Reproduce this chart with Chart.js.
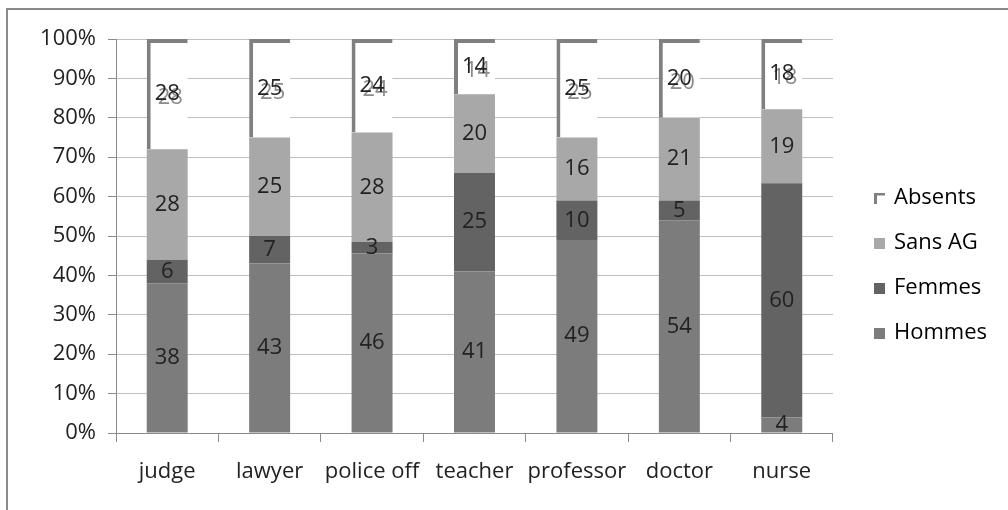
<!DOCTYPE html>
<html>
<head>
<meta charset="utf-8">
<script src="https://cdn.jsdelivr.net/npm/chart.js@4.4.0/dist/chart.umd.min.js"></script>
<style>
  html, body { margin: 0; padding: 0; background: #fff; }
  #wrap { width: 1008px; height: 510px; }
</style>
</head>
<body>
<div id="wrap"><canvas id="chart" width="1008" height="510"></canvas></div>
<script>
const categories = ["judge", "lawyer", "police off", "teacher", "professor", "doctor", "nurse"];
const hommes = [38, 43, 46, 41, 49, 54, 4];
const femmes = [6, 7, 3, 25, 10, 5, 60];
const sansAG = [28, 25, 28, 20, 16, 21, 19];
const absents = [28, 25, 24, 14, 25, 20, 18];
const yTicks = [0, 10, 20, 30, 40, 50, 60, 70, 80, 90, 100];

const FONT = "'Open Sans', Lato, sans-serif";

// 100% stacked: each bar normalised to its own total
const totals = categories.map((c, i) => hommes[i] + femmes[i] + sansAG[i] + absents[i]);
const pct = arr => arr.map((v, i) => v / totals[i] * 100);

// legend icons (square sits on the right of a wider transparent canvas)
function squareIcon(color) {
    const c = document.createElement("canvas");
    c.width = 31; c.height = 11;
    const ctx = c.getContext("2d");
    ctx.fillStyle = color;
    ctx.fillRect(20, 0, 11, 11);
    return c;
}
function cornerIcon(color) {
    const c = document.createElement("canvas");
    c.width = 31; c.height = 11;
    const ctx = c.getContext("2d");
    ctx.fillStyle = color;
    ctx.fillRect(20, 0, 11, 3);
    ctx.fillRect(20, 0, 3, 11);
    return c;
}

const frame = {
    id: "frame",
    beforeDraw(chart) {
        const ctx = chart.ctx;
        ctx.save();
        ctx.fillStyle = "#fff";
        ctx.fillRect(0, 0, chart.width, chart.height);
        ctx.strokeStyle = "#8a8a8a";
        ctx.lineWidth = 2;
        ctx.beginPath();
        ctx.moveTo(7, 510);
        ctx.lineTo(7, 9);
        ctx.lineTo(1008, 9);
        ctx.stroke();
        ctx.restore();
    }
};

const valueLabels = {
    id: "valueLabels",
    afterDatasetsDraw(chart) {
        const ctx = chart.ctx;
        ctx.save();
        ctx.font = "22px " + FONT;
        ctx.textAlign = "center";
        ctx.textBaseline = "middle";
        chart.data.datasets.forEach((ds, di) => {
            const meta = chart.getDatasetMeta(di);
            meta.data.forEach((bar, i) => {
                const x = bar.x;
                const y = (bar.y + bar.base) / 2;
                const txt = String(ds.raw[i]);
                if (ds.label === "Absents") {
                    ctx.fillStyle = "#8c8c8c";
                    ctx.fillText(txt, x + 3, y + 4);
                }
                ctx.fillStyle = "#222222";
                ctx.fillText(txt, x, y);
            });
        });
        ctx.restore();
    }
};

const myChart = new Chart("chart", {
    type: "bar",
    data: {
        labels: categories,
        datasets: [
            { label: "Hommes", raw: hommes, data: pct(hommes), backgroundColor: "#7c7c7c", icon: squareIcon("#7c7c7c") },
            { label: "Femmes", raw: femmes, data: pct(femmes), backgroundColor: "#636363", icon: squareIcon("#636363") },
            { label: "Sans AG", raw: sansAG, data: pct(sansAG), backgroundColor: "#a8a8a8", icon: squareIcon("#a8a8a8") },
            {
                label: "Absents", raw: absents, data: pct(absents), backgroundColor: "#ffffff",
                borderColor: "#808080", borderWidth: { top: 4, left: 4, right: 0, bottom: 0 },
                borderSkipped: false, icon: cornerIcon("#808080")
            }
        ]
    },
    options: {
        responsive: false,
        animation: false,
        layout: { padding: { left: 0, top: 39, right: 11, bottom: 18 } },
        datasets: { bar: { categoryPercentage: 1, barPercentage: 0.4 } },
        scales: {
            x: {
                stacked: true,
                grid: { offset: true, drawOnChartArea: false, drawTicks: true, tickLength: 9, color: "#8a8a8a" },
                border: { color: "#8a8a8a" },
                ticks: { color: "#222222", font: { family: FONT, size: 22 }, padding: 17, maxRotation: 0 },
                afterFit(scale) { scale.height = 59; }
            },
            y: {
                stacked: true,
                min: 0,
                max: 100,
                afterBuildTicks(scale) { scale.ticks = yTicks.map(v => ({ value: v })); },
                grid: { color: "#c0c0c0", tickLength: 8, tickColor: "#8a8a8a" },
                border: { color: "#8a8a8a" },
                ticks: { color: "#222222", font: { family: FONT, size: 22 }, padding: 12, callback: v => v + "%" },
                afterFit(scale) { scale.width = 116; }
            }
        },
        plugins: {
            legend: {
                position: "right",
                reverse: true,
                labels: {
                    color: "#222222",
                    font: { family: FONT, size: 22 },
                    padding: 23,
                    usePointStyle: true,
                    pointStyleWidth: 27,
                    generateLabels(chart) {
                        return chart.data.datasets.map((ds, i) => ({
                            text: ds.label,
                            pointStyle: ds.icon,
                            datasetIndex: i,
                            hidden: false,
                            lineWidth: 0
                        }));
                    }
                }
            },
            tooltip: { enabled: false }
        }
    },
    plugins: [frame, valueLabels]
});
</script>
</body>
</html>
